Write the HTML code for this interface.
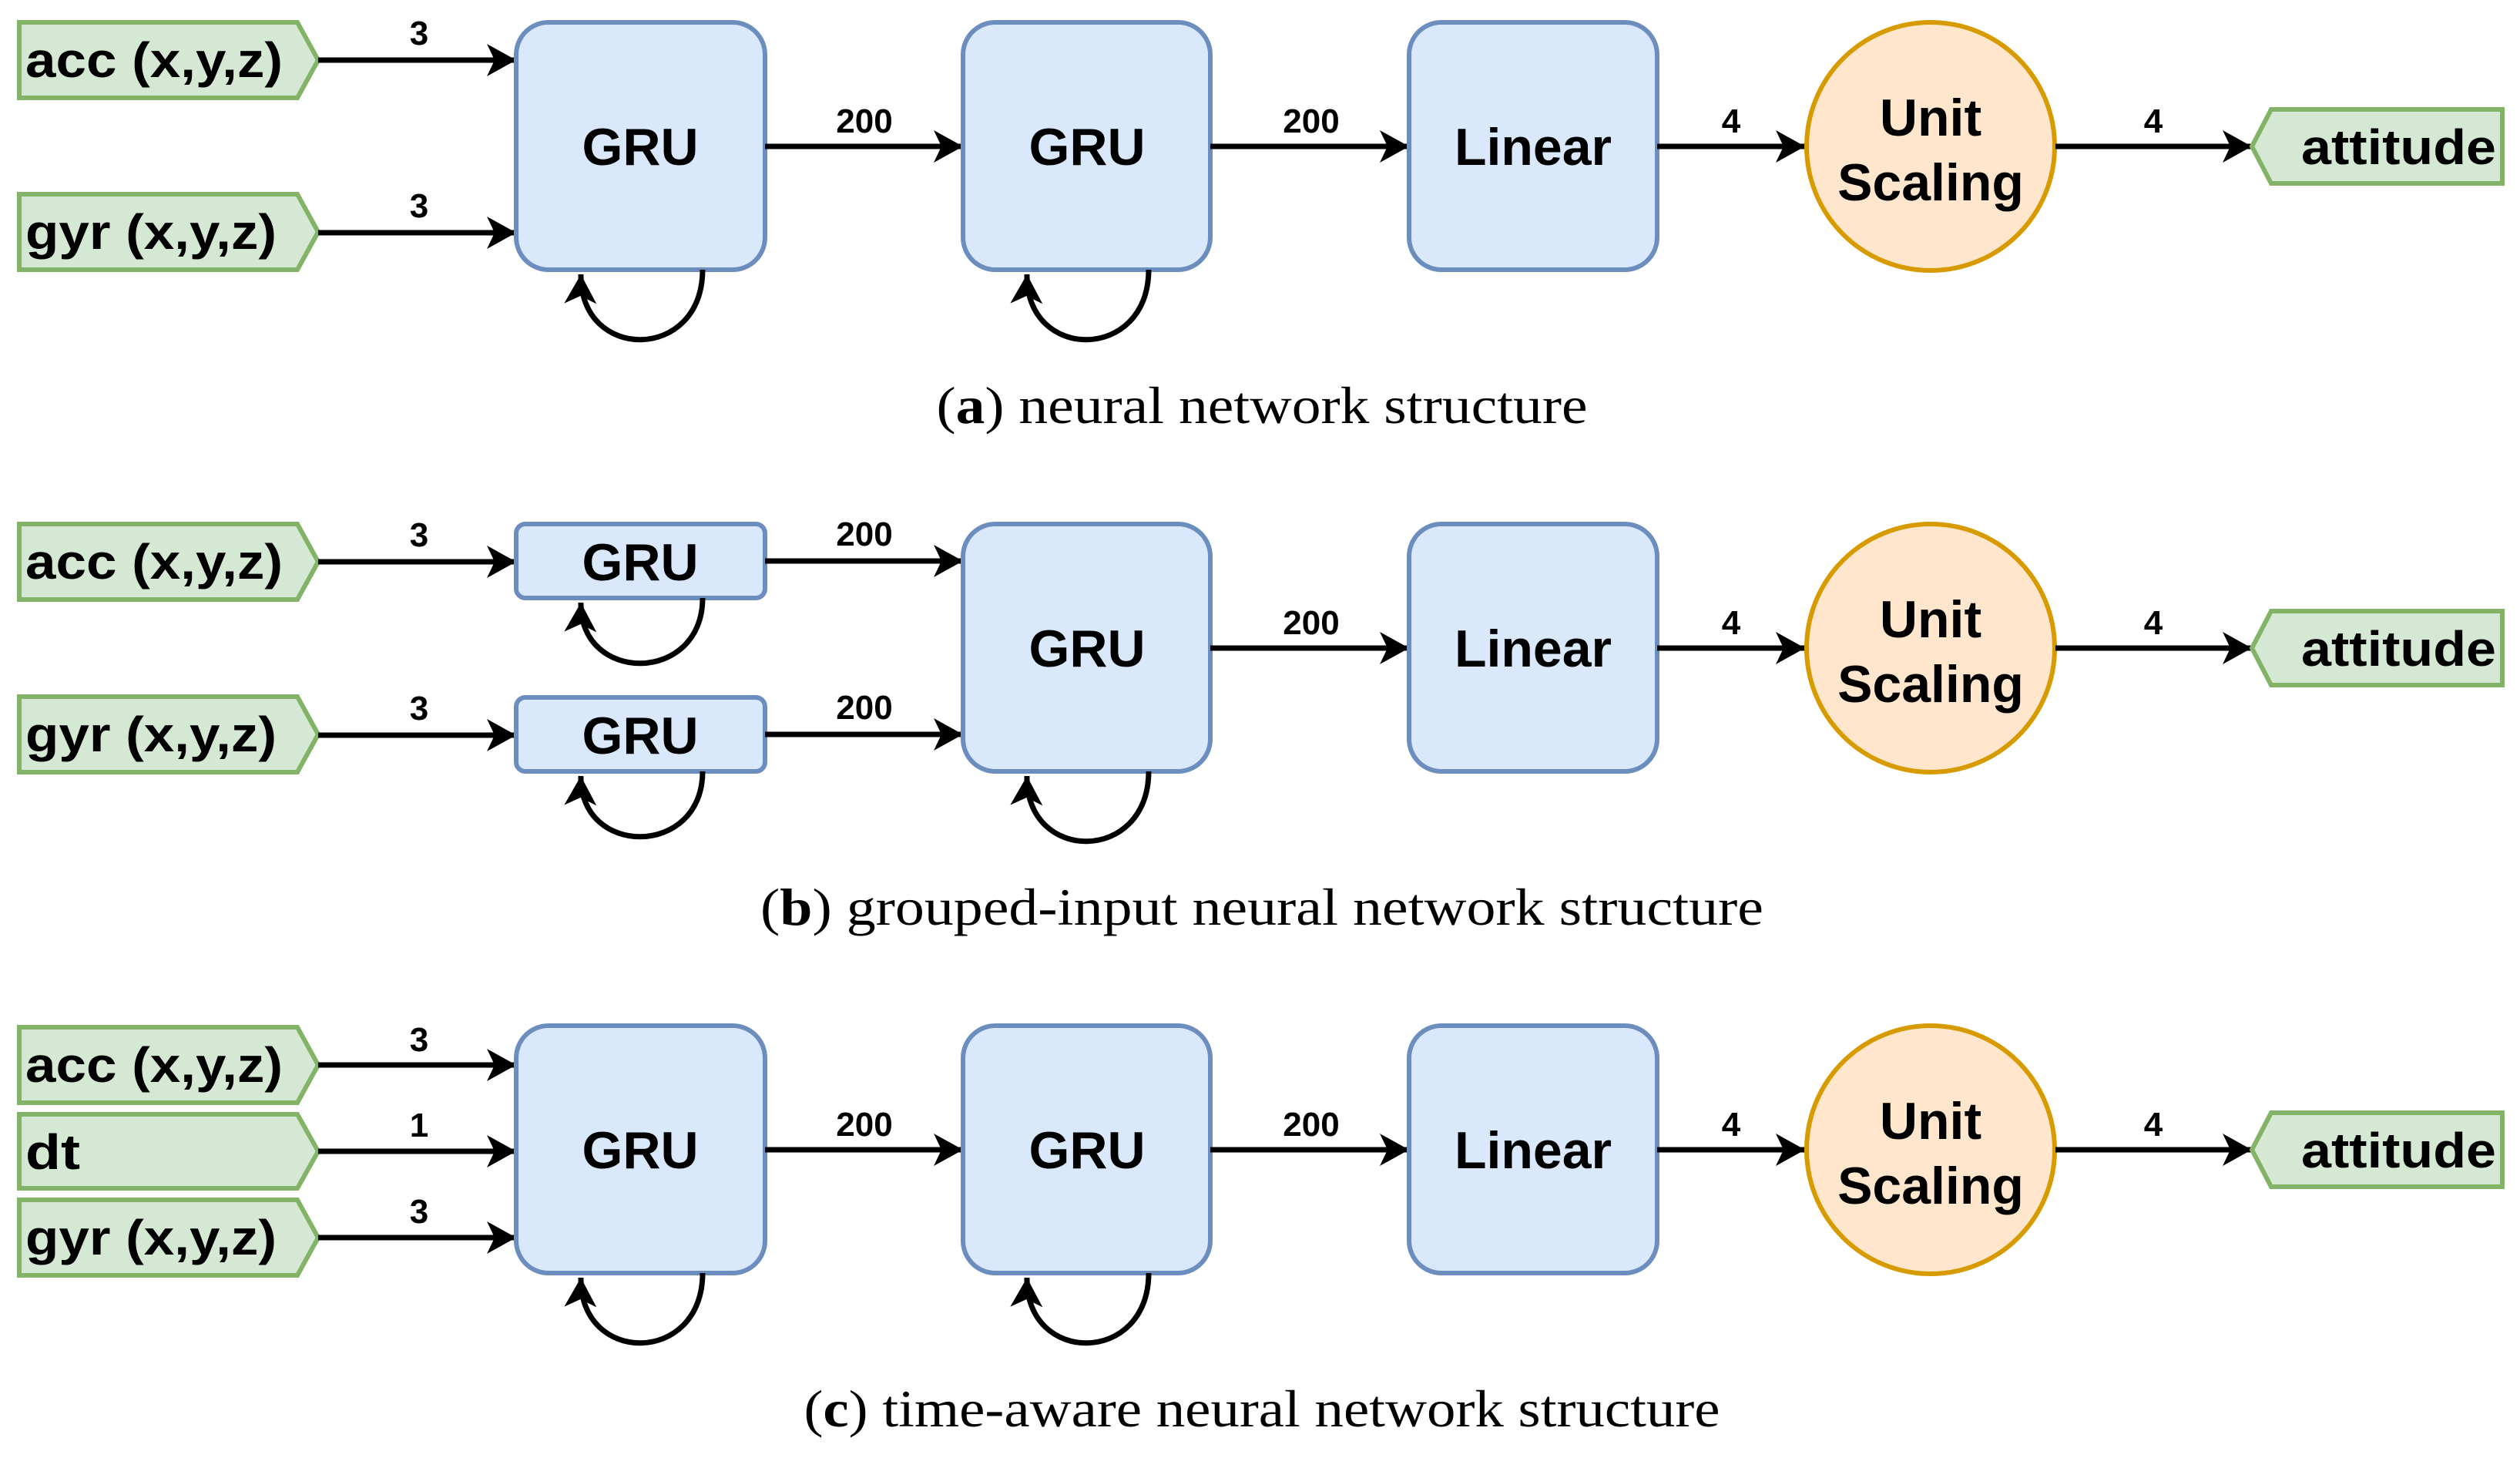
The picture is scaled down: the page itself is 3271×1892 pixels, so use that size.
<!DOCTYPE html>
<html><head><meta charset="utf-8"><style>html,body{margin:0;padding:0;background:#fff}svg{display:block}</style></head>
<body>
<svg xmlns="http://www.w3.org/2000/svg" width="3271" height="1892" viewBox="0 0 3271 1892">
<defs>
<marker id="ar" markerUnits="userSpaceOnUse" markerWidth="50" markerHeight="50" viewBox="-2 -25 44 50" refX="38" refY="0" orient="auto">
<path d="M0,-21 L38,0 L0,21 L10,0 Z" fill="#000"/>
</marker>
<style>
.in{fill:#d5e8d4;stroke:#82b366;stroke-width:6}
.bx{fill:#dae8fc;stroke:#6c8ebf;stroke-width:6}
.ci{fill:#ffe6cc;stroke:#d79b00;stroke-width:6}
.ln{stroke:#000;stroke-width:7;fill:none}
.t{font-family:"Liberation Sans",sans-serif;font-weight:bold;font-size:64px;fill:#000}
.big{font-family:"Liberation Sans",sans-serif;font-weight:bold;font-size:68px;fill:#000;text-anchor:middle}
.lb{font-family:"Liberation Sans",sans-serif;font-weight:bold;font-size:44px;fill:#000;text-anchor:middle}
.cap{font-family:"Liberation Serif",serif;font-size:68px;fill:#000}
</style>
</defs>

<!-- Panel a -->
<g>
<polygon class="in" points="25,29 386,29 413,78 386,127 25,127"/>
<text class="t" x="33" y="100" textLength="334" lengthAdjust="spacingAndGlyphs">acc (x,y,z)</text>
<polygon class="in" points="25,252 386,252 413,301 386,350 25,350"/>
<text class="t" x="33" y="323" textLength="326" lengthAdjust="spacingAndGlyphs">gyr (x,y,z)</text>
<line class="ln" x1="413" y1="78" x2="670" y2="78" marker-end="url(#ar)"/>
<line class="ln" x1="413" y1="302" x2="670" y2="302" marker-end="url(#ar)"/>
<text class="lb" x="544" y="58">3</text>
<text class="lb" x="544" y="282">3</text>
<rect class="bx" x="670" y="29" width="323" height="321" rx="42"/>
<text class="big" x="831" y="214">GRU</text>
<path class="ln" d="M912,350 C912,470 752,470 754,356" marker-end="url(#ar)"/>
<line class="ln" x1="993" y1="190" x2="1250" y2="190" marker-end="url(#ar)"/>
<text class="lb" x="1122" y="172">200</text>
<rect class="bx" x="1250" y="29" width="321" height="321" rx="42"/>
<text class="big" x="1411" y="214">GRU</text>
<path class="ln" d="M1491,350 C1491,470 1331,470 1333,356" marker-end="url(#ar)"/>
<line class="ln" x1="1571" y1="190" x2="1829" y2="190" marker-end="url(#ar)"/>
<text class="lb" x="1702" y="172">200</text>
<rect class="bx" x="1829" y="29" width="322" height="321" rx="42"/>
<text class="big" x="1990" y="214">Linear</text>
<line class="ln" x1="2151" y1="190" x2="2343" y2="190" marker-end="url(#ar)"/>
<text class="lb" x="2247" y="172">4</text>
<circle class="ci" cx="2506" cy="190" r="161"/>
<text class="big" x="2506" y="176">Unit</text>
<text class="big" x="2506" y="260">Scaling</text>
<line class="ln" x1="2668" y1="190" x2="2923" y2="190" marker-end="url(#ar)"/>
<text class="lb" x="2795" y="172">4</text>
<polygon class="in" points="2923,190 2948,142 3248,142 3248,238 2948,238"/>
<text class="t" x="2987" y="213" textLength="253" lengthAdjust="spacingAndGlyphs">attitude</text>
<text class="cap" x="1638" y="549" text-anchor="middle" textLength="845" lengthAdjust="spacingAndGlyphs">(<tspan font-weight="bold">a</tspan>) neural network structure</text>
</g>

<!-- Panel b -->
<g>
<polygon class="in" points="25,680 386,680 413,729 386,778 25,778"/>
<text class="t" x="33" y="751" textLength="334" lengthAdjust="spacingAndGlyphs">acc (x,y,z)</text>
<polygon class="in" points="25,904 386,904 413,953 386,1002 25,1002"/>
<text class="t" x="33" y="975" textLength="326" lengthAdjust="spacingAndGlyphs">gyr (x,y,z)</text>
<line class="ln" x1="413" y1="729" x2="670" y2="729" marker-end="url(#ar)"/>
<line class="ln" x1="413" y1="954" x2="670" y2="954" marker-end="url(#ar)"/>
<text class="lb" x="544" y="709">3</text>
<text class="lb" x="544" y="934">3</text>
<rect class="bx" x="670" y="680" width="323" height="96" rx="12"/>
<text class="big" x="831" y="753">GRU</text>
<path class="ln" d="M912,776 C912,888 752,888 754,782" marker-end="url(#ar)"/>
<rect class="bx" x="670" y="905" width="323" height="96" rx="12"/>
<text class="big" x="831" y="978">GRU</text>
<path class="ln" d="M912,1001 C912,1113 752,1113 754,1007" marker-end="url(#ar)"/>
<line class="ln" x1="993" y1="728" x2="1250" y2="728" marker-end="url(#ar)"/>
<line class="ln" x1="993" y1="953" x2="1250" y2="953" marker-end="url(#ar)"/>
<text class="lb" x="1122" y="708">200</text>
<text class="lb" x="1122" y="933">200</text>
<rect class="bx" x="1250" y="680" width="321" height="321" rx="42"/>
<text class="big" x="1411" y="865">GRU</text>
<path class="ln" d="M1491,1001 C1491,1121 1331,1121 1333,1007" marker-end="url(#ar)"/>
<line class="ln" x1="1571" y1="841" x2="1829" y2="841" marker-end="url(#ar)"/>
<text class="lb" x="1702" y="823">200</text>
<rect class="bx" x="1829" y="680" width="322" height="321" rx="42"/>
<text class="big" x="1990" y="865">Linear</text>
<line class="ln" x1="2151" y1="841" x2="2343" y2="841" marker-end="url(#ar)"/>
<text class="lb" x="2247" y="823">4</text>
<circle class="ci" cx="2506" cy="841" r="161"/>
<text class="big" x="2506" y="827">Unit</text>
<text class="big" x="2506" y="911">Scaling</text>
<line class="ln" x1="2668" y1="841" x2="2923" y2="841" marker-end="url(#ar)"/>
<text class="lb" x="2795" y="823">4</text>
<polygon class="in" points="2923,841 2948,793 3248,793 3248,889 2948,889"/>
<text class="t" x="2987" y="864" textLength="253" lengthAdjust="spacingAndGlyphs">attitude</text>
<text class="cap" x="1638" y="1200" text-anchor="middle" textLength="1302" lengthAdjust="spacingAndGlyphs">(<tspan font-weight="bold">b</tspan>) grouped-input neural network structure</text>
</g>

<!-- Panel c -->
<g>
<polygon class="in" points="25,1333 386,1333 413,1382 386,1431 25,1431"/>
<text class="t" x="33" y="1404" textLength="334" lengthAdjust="spacingAndGlyphs">acc (x,y,z)</text>
<polygon class="in" points="25,1446 386,1446 413,1494 386,1542 25,1542"/>
<text class="t" x="33" y="1517" textLength="71" lengthAdjust="spacingAndGlyphs">dt</text>
<polygon class="in" points="25,1557 386,1557 413,1606 386,1655 25,1655"/>
<text class="t" x="33" y="1628" textLength="326" lengthAdjust="spacingAndGlyphs">gyr (x,y,z)</text>
<line class="ln" x1="413" y1="1382" x2="670" y2="1382" marker-end="url(#ar)"/>
<line class="ln" x1="413" y1="1494" x2="670" y2="1494" marker-end="url(#ar)"/>
<line class="ln" x1="413" y1="1606" x2="670" y2="1606" marker-end="url(#ar)"/>
<text class="lb" x="544" y="1364">3</text>
<text class="lb" x="544" y="1475">1</text>
<text class="lb" x="544" y="1587">3</text>
<rect class="bx" x="670" y="1331" width="323" height="321" rx="42"/>
<text class="big" x="831" y="1516">GRU</text>
<path class="ln" d="M912,1652 C912,1772 752,1772 754,1658" marker-end="url(#ar)"/>
<line class="ln" x1="993" y1="1492" x2="1250" y2="1492" marker-end="url(#ar)"/>
<text class="lb" x="1122" y="1474">200</text>
<rect class="bx" x="1250" y="1331" width="321" height="321" rx="42"/>
<text class="big" x="1411" y="1516">GRU</text>
<path class="ln" d="M1491,1652 C1491,1772 1331,1772 1333,1658" marker-end="url(#ar)"/>
<line class="ln" x1="1571" y1="1492" x2="1829" y2="1492" marker-end="url(#ar)"/>
<text class="lb" x="1702" y="1474">200</text>
<rect class="bx" x="1829" y="1331" width="322" height="321" rx="42"/>
<text class="big" x="1990" y="1516">Linear</text>
<line class="ln" x1="2151" y1="1492" x2="2343" y2="1492" marker-end="url(#ar)"/>
<text class="lb" x="2247" y="1474">4</text>
<circle class="ci" cx="2506" cy="1492" r="161"/>
<text class="big" x="2506" y="1478">Unit</text>
<text class="big" x="2506" y="1562">Scaling</text>
<line class="ln" x1="2668" y1="1492" x2="2923" y2="1492" marker-end="url(#ar)"/>
<text class="lb" x="2795" y="1474">4</text>
<polygon class="in" points="2923,1492 2948,1444 3248,1444 3248,1540 2948,1540"/>
<text class="t" x="2987" y="1515" textLength="253" lengthAdjust="spacingAndGlyphs">attitude</text>
<text class="cap" x="1638" y="1851" text-anchor="middle" textLength="1189" lengthAdjust="spacingAndGlyphs">(<tspan font-weight="bold">c</tspan>) time-aware neural network structure</text>
</g>
</svg>
</body></html>
